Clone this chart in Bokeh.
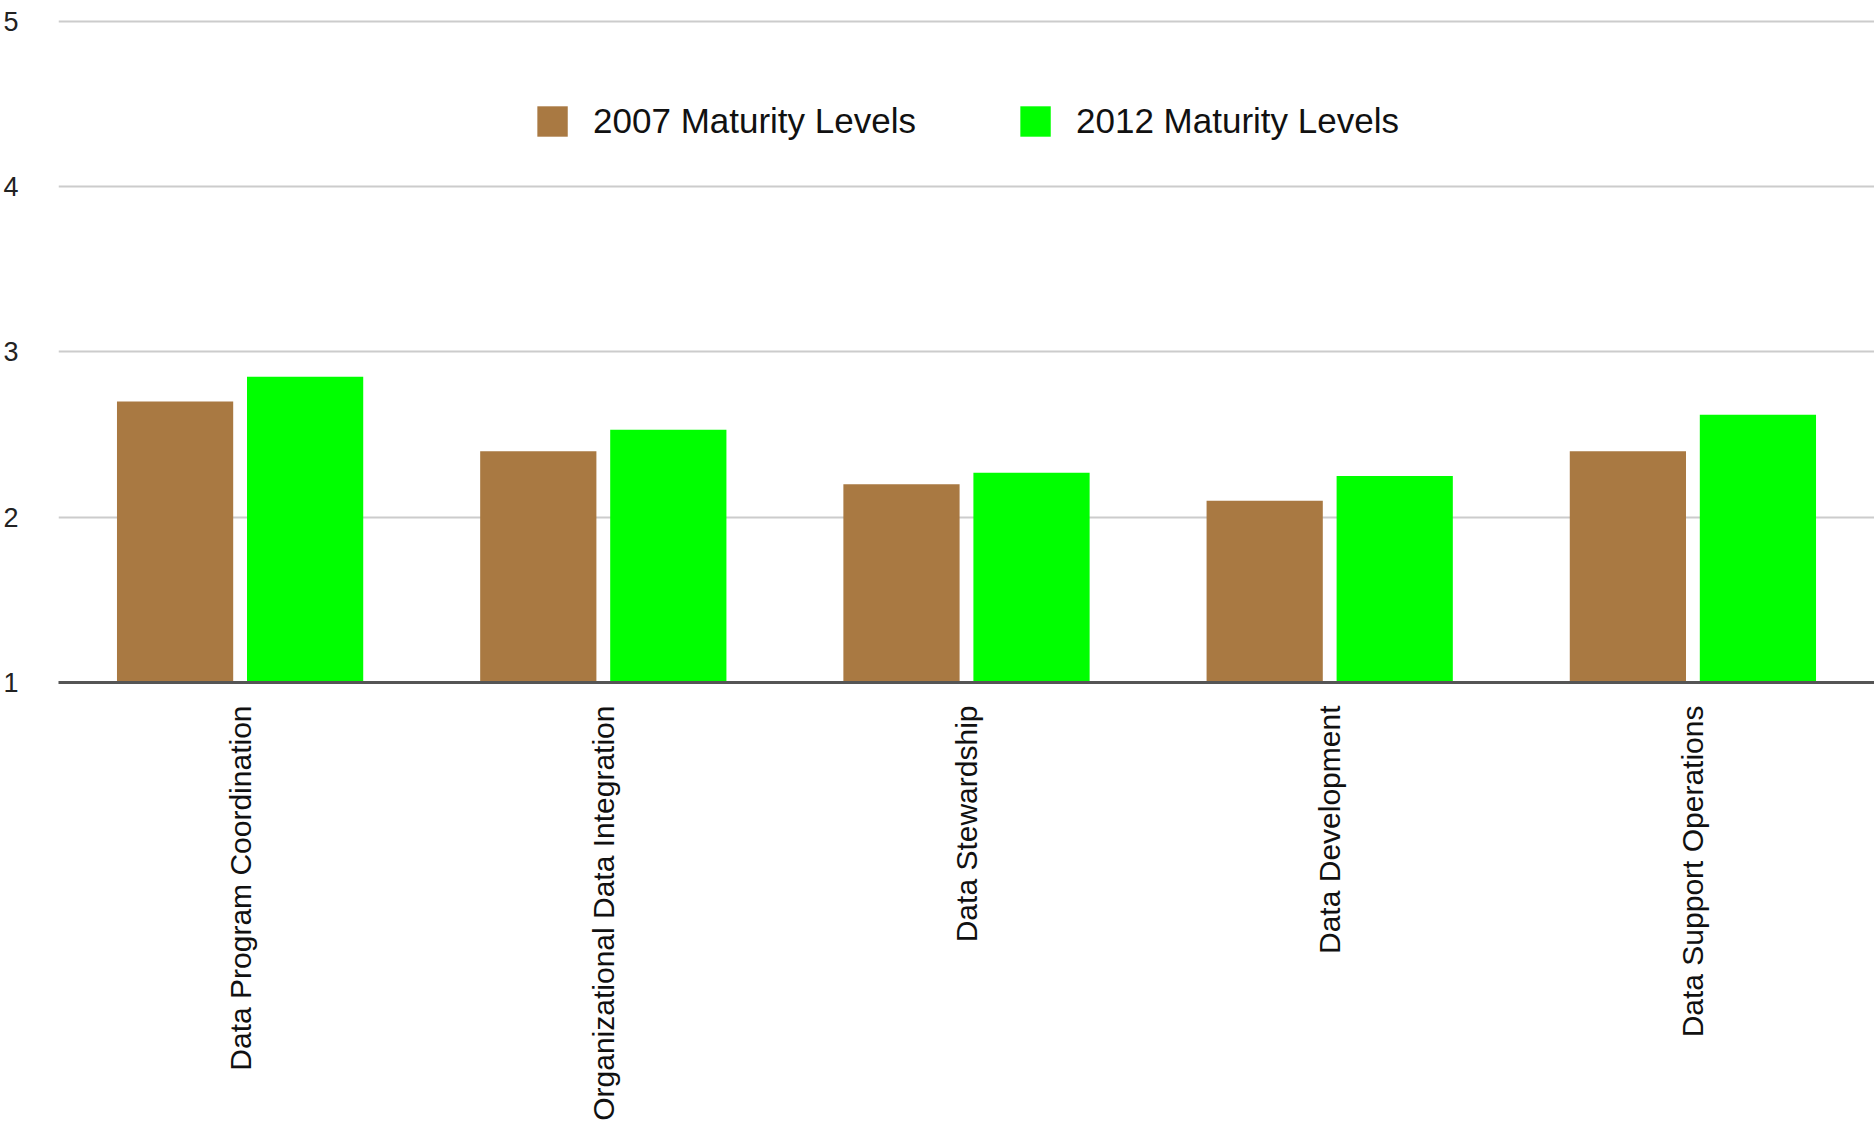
import math
from bokeh.plotting import figure
from bokeh.models import ColumnDataSource, FixedTicker, Legend, LegendItem
from bokeh.transform import dodge
from bokeh.embed import file_html
from bokeh.resources import INLINE

categories = ["Data Program Coordination", "Organizational Data Integration",
              "Data Stewardship", "Data Development", "Data Support Operations"]
levels_2007 = [2.7, 2.4, 2.2, 2.1, 2.4]
levels_2012 = [2.85, 2.53, 2.27, 2.25, 2.62]
series_names = ["2007 Maturity Levels", "2012 Maturity Levels"]
y_ticks = [1, 2, 3, 4, 5]

BROWN = "#A97942"
GREEN = "#00FF00"

src = ColumnDataSource(dict(cat=categories, v07=levels_2007, v12=levels_2012))

p = figure(x_range=categories, y_range=(1, 5.012), width=1874, height=1131,
           output_backend="svg", toolbar_location=None,
           min_border_left=57, min_border_right=0, min_border_top=19,
           min_border_bottom=449)
p.outline_line_color = None
p.background_fill_color = "white"

r1 = p.vbar(x=dodge("cat", -0.179, range=p.x_range), top="v07", bottom=1,
            width=0.32, source=src, fill_color=BROWN, line_color=None)
r2 = p.vbar(x=dodge("cat", 0.179, range=p.x_range), top="v12", bottom=1,
            width=0.32, source=src, fill_color=GREEN, line_color=None)

p.xgrid.grid_line_color = None
p.ygrid.grid_line_color = "#cccccc"
p.ygrid.grid_line_width = 2
p.yaxis.ticker = FixedTicker(ticks=y_ticks)
p.ygrid.ticker = FixedTicker(ticks=y_ticks)

p.yaxis.axis_line_color = None
p.yaxis.major_tick_line_color = None
p.yaxis.minor_tick_line_color = None
p.yaxis.major_label_standoff = 34
p.yaxis.major_label_text_font = "Liberation Sans"
p.yaxis.major_label_text_font_size = "27px"
p.yaxis.major_label_text_color = "#222222"

p.xaxis.axis_line_color = "#555555"
p.xaxis.axis_line_width = 3
p.xaxis.major_tick_line_color = None
p.xaxis.minor_tick_line_color = None
p.xaxis.major_label_orientation = math.pi / 2
p.xaxis.major_label_standoff = 17
p.xaxis.major_label_text_font = "Liberation Sans"
p.xaxis.major_label_text_font_size = "30px"
p.xaxis.major_label_text_color = "#111111"

legend = Legend(items=[LegendItem(label=series_names[0], renderers=[r1]),
                       LegendItem(label=series_names[1], renderers=[r2])],
                orientation="horizontal", location="top_center")
legend.glyph_width = 38
legend.glyph_height = 38
legend.label_standoff = 22
legend.spacing = 100
legend.padding = 0
legend.margin = 82
legend.border_line_color = None
legend.background_fill_alpha = 0
legend.label_text_font = "Liberation Sans"
legend.label_text_font_size = "35px"
legend.label_text_color = "#111111"
p.add_layout(legend, "center")

open("out.html", "w").write(file_html(p, INLINE))
